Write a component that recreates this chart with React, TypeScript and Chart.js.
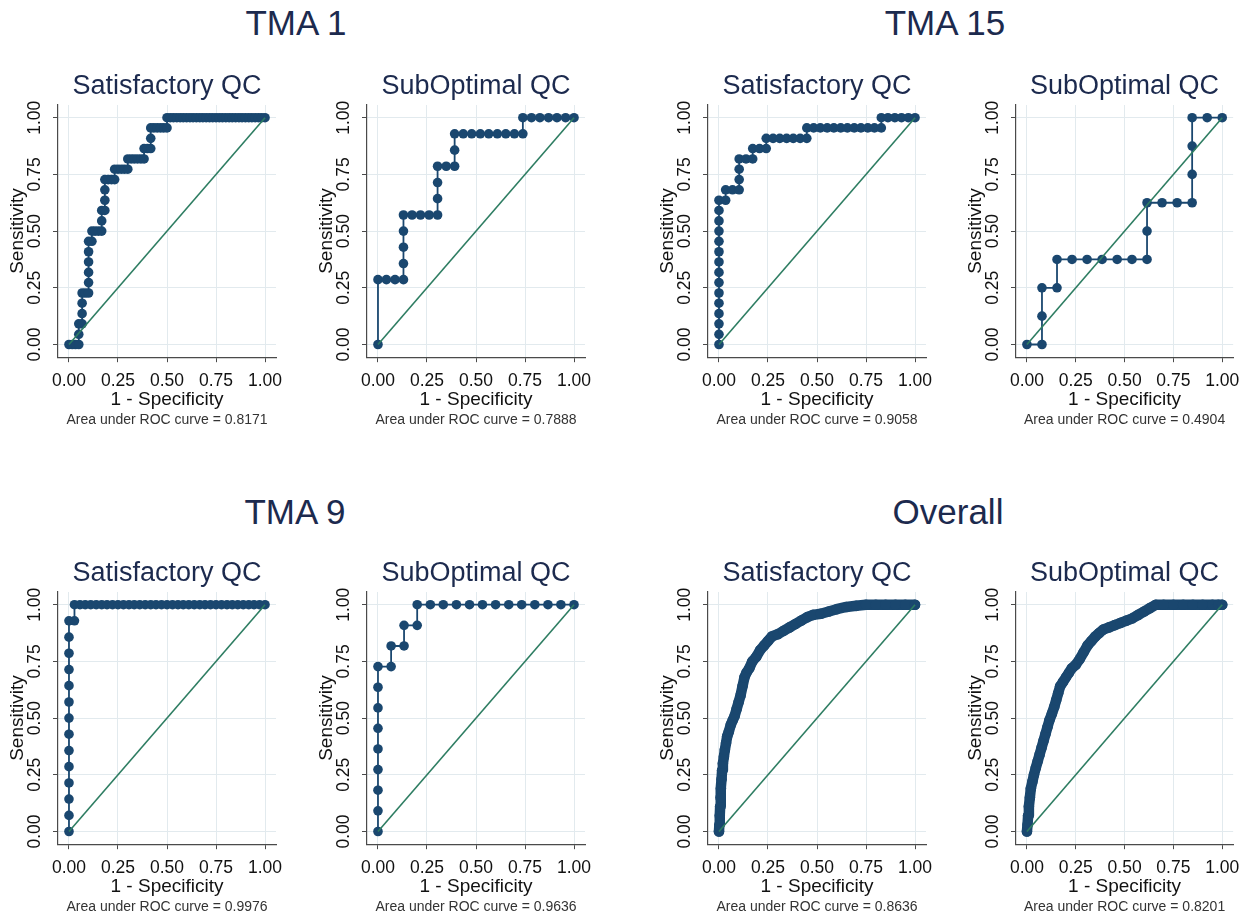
import React, { useEffect, useRef } from 'react';
import { Chart, registerables } from 'chart.js';

Chart.register(...registerables);

const FONT = '"Liberation Sans", Arial, Helvetica, sans-serif';
const NAVY = '#1a476f';
const GREEN = '#2e7d62';
const TITLE_COLOR = '#1c2a4e';
const GRID_COLOR = '#e2eaee';
const AXIS_COLOR = '#4a4a4a';

const TICK_VALUES = [0, 0.25, 0.5, 0.75, 1];
const AXIS_MIN = -0.056;
const AXIS_MAX = 1.056;

const GROUP_TITLES = ['TMA 1', 'TMA 15', 'TMA 9', 'Overall'];
const PANEL_TITLES = ['Satisfactory QC', 'SubOptimal QC'];
const AUC_VALUES = [0.8171, 0.7888, 0.9058, 0.4904, 0.9976, 0.9636, 0.8636, 0.8201];
const X_TITLE = '1 - Specificity';
const Y_TITLE = 'Sensitivity';
const DIAGONAL = [[0, 0], [1, 1]];

// [1 - specificity, sensitivity]
const TMA1_SAT = [
  [0, 0], [0.017, 0], [0.033, 0], [0.05, 0], [0.05, 0.045], [0.05, 0.091], [0.067, 0.091], [0.067, 0.136],
  [0.067, 0.182], [0.067, 0.227], [0.083, 0.227], [0.1, 0.227], [0.1, 0.273], [0.1, 0.318], [0.1, 0.364],
  [0.1, 0.409], [0.1, 0.455], [0.117, 0.455], [0.117, 0.5], [0.133, 0.5], [0.15, 0.5], [0.167, 0.5],
  [0.167, 0.545], [0.167, 0.591], [0.183, 0.591], [0.183, 0.636], [0.183, 0.682], [0.183, 0.727],
  [0.2, 0.727], [0.217, 0.727], [0.233, 0.727], [0.233, 0.773], [0.25, 0.773], [0.267, 0.773],
  [0.283, 0.773], [0.3, 0.773], [0.3, 0.818], [0.317, 0.818], [0.333, 0.818], [0.35, 0.818],
  [0.367, 0.818], [0.383, 0.818], [0.383, 0.864], [0.4, 0.864], [0.417, 0.864], [0.417, 0.909],
  [0.417, 0.955], [0.433, 0.955], [0.45, 0.955], [0.467, 0.955], [0.483, 0.955], [0.5, 0.955], [0.5, 1],
  [0.517, 1], [0.533, 1], [0.55, 1], [0.567, 1], [0.583, 1], [0.6, 1], [0.617, 1], [0.633, 1], [0.65, 1],
  [0.667, 1], [0.683, 1], [0.7, 1], [0.717, 1], [0.733, 1], [0.75, 1], [0.767, 1], [0.783, 1], [0.8, 1],
  [0.817, 1], [0.833, 1], [0.85, 1], [0.867, 1], [0.883, 1], [0.9, 1], [0.917, 1], [0.933, 1], [0.95, 1],
  [0.967, 1], [0.983, 1], [1, 1],
];

const TMA1_SUB = [
  [0, 0], [0, 0.286], [0.043, 0.286], [0.087, 0.286], [0.13, 0.286], [0.13, 0.357], [0.13, 0.429],
  [0.13, 0.5], [0.13, 0.571], [0.174, 0.571], [0.217, 0.571], [0.261, 0.571], [0.304, 0.571],
  [0.304, 0.643], [0.304, 0.714], [0.304, 0.786], [0.348, 0.786], [0.391, 0.786], [0.391, 0.857],
  [0.391, 0.929], [0.435, 0.929], [0.478, 0.929], [0.522, 0.929], [0.565, 0.929], [0.609, 0.929],
  [0.652, 0.929], [0.696, 0.929], [0.739, 0.929], [0.739, 1], [0.783, 1], [0.826, 1], [0.87, 1],
  [0.913, 1], [0.957, 1], [1, 1],
];

const TMA15_SAT = [
  [0, 0], [0, 0.045], [0, 0.091], [0, 0.136], [0, 0.182], [0, 0.227], [0, 0.273], [0, 0.318], [0, 0.364],
  [0, 0.409], [0, 0.455], [0, 0.5], [0, 0.545], [0, 0.591], [0, 0.636], [0.034, 0.636], [0.034, 0.682],
  [0.069, 0.682], [0.103, 0.682], [0.103, 0.727], [0.103, 0.773], [0.103, 0.818], [0.138, 0.818],
  [0.172, 0.818], [0.172, 0.864], [0.207, 0.864], [0.241, 0.864], [0.241, 0.909], [0.276, 0.909],
  [0.31, 0.909], [0.345, 0.909], [0.379, 0.909], [0.414, 0.909], [0.448, 0.909], [0.448, 0.955],
  [0.483, 0.955], [0.517, 0.955], [0.552, 0.955], [0.586, 0.955], [0.621, 0.955], [0.655, 0.955],
  [0.69, 0.955], [0.724, 0.955], [0.759, 0.955], [0.793, 0.955], [0.828, 0.955], [0.828, 1],
  [0.862, 1], [0.897, 1], [0.931, 1], [0.966, 1], [1, 1],
];

const TMA15_SUB = [
  [0, 0], [0.077, 0], [0.077, 0.125], [0.077, 0.25], [0.154, 0.25], [0.154, 0.375], [0.231, 0.375],
  [0.308, 0.375], [0.385, 0.375], [0.462, 0.375], [0.538, 0.375], [0.615, 0.375], [0.615, 0.5],
  [0.615, 0.625], [0.692, 0.625], [0.769, 0.625], [0.846, 0.625], [0.846, 0.75], [0.846, 0.875],
  [0.846, 1], [0.923, 1], [1, 1],
];

const TMA9_SAT = [
  [0, 0], [0, 0.071], [0, 0.143], [0, 0.214], [0, 0.286], [0, 0.357], [0, 0.429], [0, 0.5], [0, 0.571],
  [0, 0.643], [0, 0.714], [0, 0.786], [0, 0.857], [0, 0.929], [0.028, 0.929], [0.028, 1], [0.056, 1],
  [0.083, 1], [0.111, 1], [0.139, 1], [0.167, 1], [0.194, 1], [0.222, 1], [0.25, 1], [0.278, 1],
  [0.306, 1], [0.333, 1], [0.361, 1], [0.389, 1], [0.417, 1], [0.444, 1], [0.472, 1], [0.5, 1],
  [0.528, 1], [0.556, 1], [0.583, 1], [0.611, 1], [0.639, 1], [0.667, 1], [0.694, 1], [0.722, 1],
  [0.75, 1], [0.778, 1], [0.806, 1], [0.833, 1], [0.861, 1], [0.889, 1], [0.917, 1], [0.944, 1],
  [0.972, 1], [1, 1],
];

const TMA9_SUB = [
  [0, 0], [0, 0.091], [0, 0.182], [0, 0.273], [0, 0.364], [0, 0.455], [0, 0.545], [0, 0.636], [0, 0.727],
  [0.067, 0.727], [0.067, 0.818], [0.133, 0.818], [0.133, 0.909], [0.2, 0.909], [0.2, 1], [0.267, 1],
  [0.333, 1], [0.4, 1], [0.467, 1], [0.533, 1], [0.6, 1], [0.667, 1], [0.733, 1], [0.8, 1], [0.867, 1],
  [0.933, 1], [1, 1],
];

const OVERALL_SAT = [
  [0, 0], [0.002, 0.03], [0.004, 0.07], [0.006, 0.11], [0.008, 0.15], [0.01, 0.19], [0.013, 0.23],
  [0.016, 0.27], [0.02, 0.3], [0.025, 0.33], [0.03, 0.36], [0.036, 0.39], [0.042, 0.42], [0.05, 0.44],
  [0.06, 0.47], [0.07, 0.49], [0.08, 0.51], [0.09, 0.54], [0.1, 0.57], [0.11, 0.6], [0.12, 0.64],
  [0.13, 0.68], [0.14, 0.7], [0.155, 0.72], [0.17, 0.75], [0.19, 0.77], [0.21, 0.8], [0.23, 0.82],
  [0.25, 0.84], [0.27, 0.86], [0.3, 0.87], [0.33, 0.885], [0.36, 0.9], [0.39, 0.915], [0.42, 0.93],
  [0.45, 0.945], [0.48, 0.955], [0.52, 0.96], [0.56, 0.97], [0.6, 0.98], [0.65, 0.99], [0.7, 0.995],
  [0.75, 1], [0.8, 1], [0.85, 1], [0.9, 1], [0.95, 1], [1, 1],
];

const OVERALL_SUB = [
  [0, 0], [0.003, 0.03], [0.006, 0.07], [0.01, 0.11], [0.015, 0.15], [0.02, 0.19], [0.028, 0.22],
  [0.036, 0.25], [0.045, 0.28], [0.055, 0.31], [0.065, 0.34], [0.075, 0.37], [0.085, 0.4], [0.095, 0.43],
  [0.105, 0.46], [0.115, 0.49], [0.128, 0.52], [0.14, 0.55], [0.15, 0.58], [0.16, 0.61], [0.17, 0.64],
  [0.185, 0.66], [0.2, 0.68], [0.215, 0.7], [0.23, 0.72], [0.25, 0.735], [0.27, 0.76], [0.29, 0.79],
  [0.31, 0.82], [0.33, 0.84], [0.35, 0.86], [0.37, 0.875], [0.39, 0.89], [0.42, 0.9], [0.45, 0.91],
  [0.48, 0.92], [0.51, 0.93], [0.54, 0.94], [0.57, 0.955], [0.6, 0.97], [0.63, 0.985], [0.66, 1],
  [0.7, 1], [0.75, 1], [0.8, 1], [0.85, 1], [0.9, 1], [0.95, 1], [0.98, 1], [1, 1],
];

const PANEL_DATA = [TMA1_SAT, TMA1_SUB, TMA15_SAT, TMA15_SUB, TMA9_SAT, TMA9_SUB, OVERALL_SAT, OVERALL_SUB];
const PANEL_DENSE = [false, false, false, false, false, false, true, true];

// layout (pixels)
const COL_LEFT = [0, 309, 650, 958];
const COL_WIDTH = [300, 300, 300, 290];
const ROW_TOP = [55, 542];
const CANVAS_H = 380;
const AREA_RIGHT = 276;
const GROUP_TITLE_POS = [
  { cx: 296, cy: 23 },
  { cx: 945, cy: 23 },
  { cx: 295, cy: 512 },
  { cx: 948, cy: 512 },
];

type PanelProps = {
  left: number;
  top: number;
  width: number;
  points: number[][];
  title: string;
  auc: number;
  dense: boolean;
};

function RocPanel({ left, top, width, points, title, auc, dense }: PanelProps) {
  const ref = useRef<HTMLCanvasElement>(null);
  useEffect(() => {
    if (!ref.current) return;
    const fixTicks = (s: any) => {
      s.ticks = TICK_VALUES.map((v) => ({ value: v }));
    };
    const tickFmt = (v: any) => Number(v).toFixed(2);
    const commonScale = {
      type: 'linear' as const,
      min: AXIS_MIN,
      max: AXIS_MAX,
      afterBuildTicks: fixTicks,
      grid: { color: GRID_COLOR, lineWidth: 1, drawTicks: true, tickLength: 5, tickColor: AXIS_COLOR },
      border: { display: true, color: AXIS_COLOR, width: 1.2 },
    };
    const chart = new Chart(ref.current, {
      type: 'scatter',
      data: {
        datasets: [
          {
            data: DIAGONAL.map(([x, y]) => ({ x, y })),
            showLine: true,
            borderColor: GREEN,
            borderWidth: 1.6,
            pointRadius: 0,
            order: 0,
          },
          {
            data: points.map(([x, y]) => ({ x, y })),
            showLine: true,
            borderColor: NAVY,
            borderWidth: dense ? 10.5 : 1.8,
            borderJoinStyle: 'round',
            borderCapStyle: 'round',
            pointRadius: dense ? 5.3 : 4.8,
            pointBackgroundColor: NAVY,
            pointBorderWidth: 0,
            order: 1,
          },
        ],
      },
      options: {
        animation: false,
        responsive: false,
        maintainAspectRatio: false,
        events: [],
        layout: { padding: { top: 0, left: 0, right: width - AREA_RIGHT, bottom: 2 } },
        plugins: {
          legend: { display: false },
          tooltip: { enabled: false },
          title: {
            display: true,
            text: title,
            fullSize: false,
            color: TITLE_COLOR,
            font: { family: FONT, size: 27, weight: 'normal' },
            padding: { top: 15.8, bottom: 1.8 },
          },
          subtitle: {
            display: true,
            position: 'bottom',
            text: `Area under ROC curve = ${auc.toFixed(4)}`,
            fullSize: false,
            color: '#333333',
            font: { family: FONT, size: 14, weight: 'normal' },
            padding: { top: 1, bottom: 4 },
          },
        },
        scales: {
          x: {
            ...commonScale,
            afterFit: (s: any) => {
              s.height = 54;
            },
            ticks: {
              color: '#111111',
              font: { family: FONT, size: 17.5 },
              padding: 8,
              maxRotation: 0,
              minRotation: 0,
              autoSkip: false,
              callback: tickFmt,
            },
            title: {
              display: true,
              text: X_TITLE,
              color: '#111111',
              font: { family: FONT, size: 19 },
              padding: { top: 0, bottom: 0 },
            },
          },
          y: {
            ...commonScale,
            afterFit: (s: any) => {
              s.width = 58;
            },
            ticks: {
              color: '#111111',
              font: { family: FONT, size: 17.5 },
              padding: 1,
              minRotation: 90,
              maxRotation: 90,
              crossAlign: 'center',
              autoSkip: false,
              callback: tickFmt,
            },
            title: {
              display: true,
              text: Y_TITLE,
              color: '#111111',
              font: { family: FONT, size: 19 },
              padding: { top: 6.6, bottom: 0 },
            },
          },
        },
      } as any,
    } as any);
    return () => chart.destroy();
  }, [points, title, auc, dense, width]);
  return (
    <canvas
      ref={ref}
      width={width}
      height={CANVAS_H}
      style={{ position: 'absolute', left, top, width, height: CANVAS_H }}
    />
  );
}

export default function App() {
  const panels = PANEL_DATA.map((points, i) => {
    const row = Math.floor(i / 4);
    const col = i % 4;
    return (
      <RocPanel
        key={i}
        left={COL_LEFT[col]}
        top={ROW_TOP[row]}
        width={COL_WIDTH[col]}
        points={points}
        title={PANEL_TITLES[col % 2]}
        auc={AUC_VALUES[i]}
        dense={PANEL_DENSE[i]}
      />
    );
  });
  return (
    <div
      style={{
        position: 'absolute',
        left: 0,
        top: 0,
        width: 1250,
        height: 924,
        background: '#ffffff',
        fontFamily: FONT,
        overflow: 'hidden',
      }}
    >
      {GROUP_TITLES.map((t, i) => (
        <div
          key={t}
          style={{
            position: 'absolute',
            left: GROUP_TITLE_POS[i].cx - 150,
            top: GROUP_TITLE_POS[i].cy - 20,
            width: 300,
            height: 40,
            lineHeight: '40px',
            textAlign: 'center',
            fontSize: 35,
            color: TITLE_COLOR,
          }}
        >
          {t}
        </div>
      ))}
      {panels}
    </div>
  );
}
